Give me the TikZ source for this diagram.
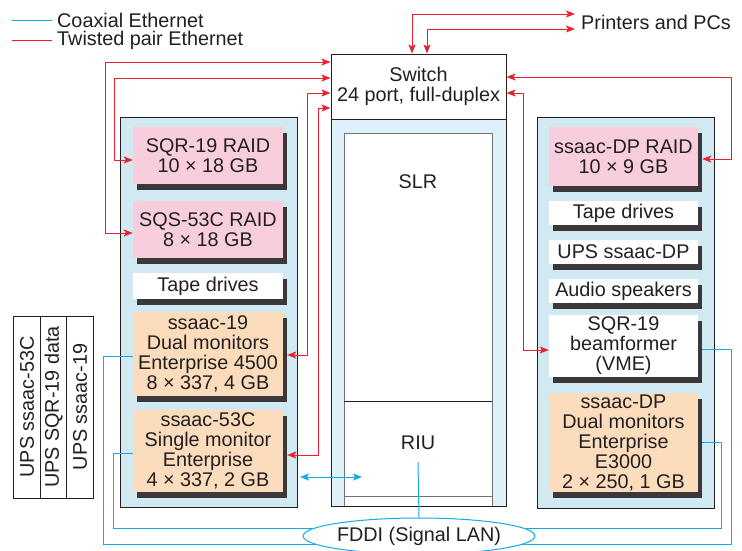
\documentclass[tikz,border=0pt]{standalone}
\usepackage{fontspec}
\setmainfont{Liberation Sans}
\usetikzlibrary{arrows.meta,shapes.geometric}
\definecolor{twred}{RGB}{236,32,44}
\definecolor{coaxc}{RGB}{20,170,230}
\definecolor{rackblue}{RGB}{209,233,242}
\definecolor{slrblue}{RGB}{222,240,250}
\definecolor{pinkc}{RGB}{248,206,221}
\definecolor{peachc}{RGB}{251,220,188}
\definecolor{ink}{RGB}{35,31,32}
\definecolor{shadowc}{RGB}{60,56,58}
\newcommand{\bxfont}{\fontsize{19.8}{20}\selectfont}
\tikzset{
  bx/.style={inner sep=0pt, align=center, font=\bxfont, text=ink},
  lbx/.style={bx, minimum width=150pt},
  rbx/.style={bx, minimum width=149pt},
  pinkbox/.style={fill=pinkc},
  peachbox/.style={fill=peachc},
  whitebox/.style={fill=white},
  rack/.style={draw=ink, line width=1pt, fill=rackblue},
  tp/.style={draw=twred, line width=1pt},
  cx/.style={draw=coaxc, line width=1pt},
  lbl/.style={font=\bxfont, text=ink, inner sep=0pt},
  upscol/.style={draw=ink, line width=1pt, fill=white, minimum width=26.5pt, minimum height=182pt, inner sep=0pt},
  shad/.style={fill=shadowc, draw=none},
}
\begin{document}
\begin{tikzpicture}[x=1pt,y=-1pt,>={Stealth[length=9pt,width=7pt,inset=2pt]}]
\useasboundingbox (0,0) rectangle (742,550);
\fill[white] (0,0) rectangle (742,550);

% legend
\draw[cx] (12,20) -- (52,20);
\draw[tp] (12,40) -- (52,40);
\node[lbl, anchor=west] (lg1) at (57,20) {Coaxial Ethernet};
\node[lbl, anchor=west] (lg2) at (57,40) {Twisted pair Ethernet};

% racks
\draw[rack] (120,117) rectangle (297,507);
\draw[rack] (537,117) rectangle (714,508);
\draw[draw=ink, line width=1pt, fill=slrblue] (331,119) rectangle (506,506);
\draw[draw=black!55, line width=0.8pt, fill=white] (344,133) rectangle (492,506);
\draw[draw=ink, line width=0.8pt] (344,401) -- (492,401);
\draw[draw=black!55, line width=0.8pt] (344,496) -- (492,496);
\draw[draw=ink, line width=1pt] (331,119) rectangle (506,506);
\node[lbl] (slr) at (418,182) {SLR};
\node[lbl] (riu) at (418,443) {RIU};

% switch
\node[draw=ink, line width=1pt, fill=white, minimum width=175pt, minimum height=65pt,
      inner sep=0pt, align=center, font=\bxfont, text=ink] (sw) at (418.5,86.5)
      {Switch\\24 port, full-duplex};

% bevel shadows: plain offset rectangles behind the faces
\path[shad] (137,133) rectangle (287,190);
\path[shad] (137,207) rectangle (287,264);
\path[shad] (137,279) rectangle (287,305);
\path[shad] (137,318) rectangle (287,402);
\path[shad] (137,416) rectangle (287,498);
\path[shad] (553,133) rectangle (702,192);
\path[shad] (553,207) rectangle (702,231);
\path[shad] (553,246) rectangle (702,270);
\path[shad] (553,285) rectangle (702,309);
\path[shad] (553,321) rectangle (702,383);
\path[shad] (553,399) rectangle (702,498);

% left rack boxes
\node[lbx, pinkbox, minimum height=57pt] (sqr) at (208,155.5) {SQR-19 RAID\\10 × 18 GB};
\node[lbx, pinkbox, minimum height=57pt] (sqs) at (208,229.5) {SQS-53C RAID\\8 × 18 GB};
\node[lbx, whitebox, minimum height=26pt] (ltape) at (208,286) {Tape drives};
\node[lbx, peachbox, minimum height=84pt] (s19) at (208,354) {ssaac-19\\Dual monitors\\Enterprise 4500\\8 × 337, 4 GB};
\node[lbx, peachbox, minimum height=82pt] (s53) at (208,451) {ssaac-53C\\Single monitor\\Enterprise\\4 × 337, 2 GB};

% right rack boxes
\node[rbx, pinkbox, minimum height=59pt] (dpr) at (623.5,156.5) {ssaac-DP RAID\\10 × 9 GB};
\node[rbx, whitebox, minimum height=24pt] (rtape) at (623.5,213) {Tape drives};
\node[rbx, whitebox, minimum height=24pt] (ups) at (623.5,252) {UPS ssaac-DP};
\node[rbx, whitebox, minimum height=24pt] (aud) at (623.5,291) {Audio speakers};
\node[rbx, whitebox, minimum height=62pt] (bf) at (623.5,346) {SQR-19\\beamformer\\(VME)};
\node[rbx, peachbox, minimum height=99pt] (dp) at (623.5,442.5) {ssaac-DP\\Dual monitors\\Enterprise\\E3000\\2 × 250, 1 GB};

% UPS columns
\node[upscol] (u1) at (27,407) {};
\node[upscol] (u2) at (53.5,407) {};
\node[upscol] (u3) at (80,407) {};
\node[lbl, rotate=90] (u1t) at (u1) {UPS ssaac-53C};
\node[lbl, rotate=90] (u2t) at (u2) {UPS SQR-19 data};
\node[lbl, rotate=90] (u3t) at (u3) {UPS ssaac-19};

% FDDI
\node[ellipse, draw=coaxc, line width=1pt, fill=white, minimum width=224pt, minimum height=36pt,
      inner sep=0pt, font=\bxfont, text=ink] (fddi) at (419,536) {FDDI (Signal LAN)};

% shadow-edge coordinates
\coordinate (s19E) at ([xshift=4pt]s19.east);
\coordinate (s53E) at ([xshift=4pt]s53.east);
\coordinate (dprE) at ([xshift=4pt]dpr.east);
\coordinate (bfE) at ([xshift=4pt]bf.east);
\coordinate (dpE) at ([xshift=4pt]dp.east);
\coordinate (p1) at (575,14);
\coordinate (p2) at (575,29);
\node[lbl, anchor=west] (prn) at (581,22) {Printers and PCs};

% twisted pair
\draw[tp,<->] (sw.north -| 412,0) |- (p1);
\draw[tp,<->] (sw.north -| 427,0) |- (p2);
\draw[tp,<->] (sw.west |- 0,62) -| (105,233) -- (sqs.west |- 0,233);
\draw[tp,<->] (sw.west |- 0,78) -| (114,160) -- (sqr.west |- 0,160);
\draw[tp,<->] (sw.west |- 0,93) -| (307,355) -- (s19E |- 0,355);
\draw[tp,<->] (sw.west |- 0,108) -| (318,455) -- (s53E |- 0,455);
\draw[tp,<->] (sw.east |- 0,77) -| (731,159) -- (dprE |- 0,159);
\draw[tp,<->] (sw.east |- 0,93) -| (523,350) -- (bf.west |- 0,350);

% coaxial
\coordinate (ba) at (300,477);
\coordinate (bb) at (362,477);
\draw[cx,<->] (ba) -- (bb);
\draw[cx] (riu.south) ++(0,12) -- (fddi.north);
\draw[cx] (s19.west |- 0,356) -- (103,356) |- (fddi.185);
\draw[cx] (s53.west |- 0,453) -- (113,453) |- (fddi.176);
\draw[cx] (bfE |- 0,349) -- (731,349) |- (fddi.355);
\draw[cx] (dpE |- 0,442) -- (721,442) |- (fddi.4);
\end{tikzpicture}
\end{document}
